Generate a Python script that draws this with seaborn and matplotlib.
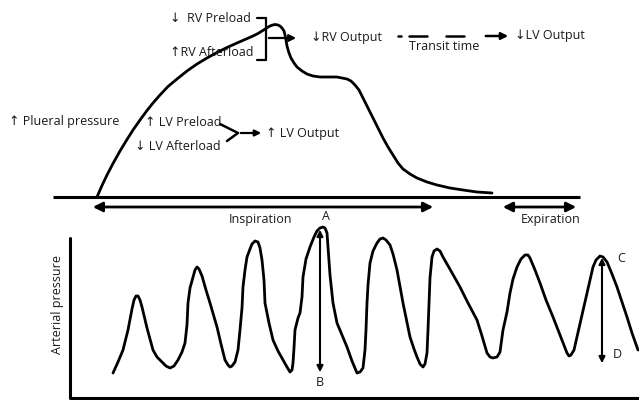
import matplotlib
matplotlib.use('Agg')
import matplotlib.pyplot as plt
import seaborn as sns

# pleural pressure curve (top), traced in pixel coords
pleural_x = [97, 102, 107, 113, 120, 127, 133, 140, 147, 153, 160, 168, 177, 187, 197, 207, 217, 227,
             237, 245, 253, 258, 262, 266, 269, 272, 275, 278, 280, 282, 284, 285, 286, 287, 289,
             291, 294, 297, 302, 307, 313, 320, 328, 337, 342, 347, 351, 355, 359, 363, 368, 373,
             378, 383, 388, 393, 398, 403, 410, 417, 427, 437, 450, 463, 477, 492]
pleural_y = [197, 185.5, 175, 163.5, 151, 139.5, 130, 120, 110.5, 103, 95, 86.5, 79, 71, 64, 58, 52.5, 47.5,
             43, 39.5, 36, 33.5, 31, 28.5, 26.5, 25.2, 24.5, 25, 26, 28, 31, 35, 40, 46, 53,
             58, 63, 67, 71, 74, 76, 77, 77, 77, 78, 79, 81, 85, 90, 98, 108, 118,
             128, 138, 147, 155, 163, 169, 174, 178, 182, 185, 188, 190, 192, 193]

# arterial pressure waveform (bottom)
wave_x = [113, 118, 123, 128, 132, 134, 136, 138, 140, 142, 147, 153, 157, 162, 166, 170, 174, 178,
          182, 185, 187, 188, 190, 193, 195, 197, 199, 202, 206, 210, 217, 221, 225, 228, 230, 232,
          235, 238, 240, 242, 243, 245, 247, 250, 252, 255, 258, 260, 262, 264, 265, 269, 273, 278,
          283, 287, 290, 292, 293, 294, 295, 298, 300, 302, 303, 306, 310, 314, 317, 320, 323, 325,
          327, 328, 330, 333, 337, 342, 347, 352, 357, 360, 363, 365, 366, 367, 368, 370, 373, 377,
          380, 383, 386, 390, 393, 397, 403, 410, 414, 417, 420, 423, 425, 427, 428, 429, 430, 432,
          434, 437, 440, 443, 451, 460, 468, 477, 482, 487, 490, 493, 497, 500, 503, 507, 510, 513,
          517, 521, 525, 528, 530, 535, 540, 546, 553, 560, 567, 569, 571, 574, 577, 582, 587, 590,
          593, 596, 600, 603, 607, 612, 617, 622, 627, 632, 638]
wave_y = [373, 362, 350, 330, 309, 300, 296, 296, 300, 307, 328, 350, 357, 362, 366, 368, 366, 360,
          352, 343, 325, 303, 288, 277, 270, 267, 269, 276, 290, 303, 327, 344, 360, 365, 367, 366,
          362, 350, 330, 308, 287, 270, 257, 249, 244, 241, 242, 248, 260, 280, 303, 323, 340, 351,
          360, 367, 372, 370, 363, 348, 330, 318, 313, 297, 277, 259, 247, 237, 231, 228, 227, 228,
          233, 247, 275, 303, 323, 335, 347, 361, 373, 372, 368, 350, 330, 303, 285, 263, 251, 243,
          239, 238, 240, 245, 254, 270, 303, 337, 349, 357, 364, 367, 364, 353, 330, 303, 278, 257,
          251, 249, 251, 257, 271, 287, 303, 320, 336, 353, 357, 358, 357, 352, 330, 312, 293, 279,
          267, 259, 255, 255, 258, 270, 283, 300, 317, 335, 353, 356, 355, 350, 337, 315, 293, 280,
          267, 260, 256, 257, 262, 274, 287, 302, 317, 333, 350]

# text labels: (x, y, text)
labels = [
    (170, 19, '\u2193  RV Preload'),
    (170, 52, '\u2191RV Afterload'),
    (311, 38, '\u2193RV Output'),
    (409, 46, 'Transit time'),
    (515, 36, '\u2193LV Output'),
    (9, 121, '\u2191 Plueral pressure'),
    (145, 123, '\u2191 LV Preload'),
    (135, 146, '\u2193 LV Afterload'),
    (266, 133, '\u2191 LV Output'),
]
centered = [
    (261, 220, 'Inspiration'),
    (551, 220, 'Expiration'),
    (326, 216, 'A'),
    (320, 382, 'B'),
]

sns.set_theme(style='white')
plt.rcParams['font.family'] = ['Open Sans', 'DejaVu Sans']

fig = plt.figure(figsize=(6.39, 4.0), dpi=100)
ax = fig.add_axes([0, 0, 1, 1])
ax.set_xlim(0, 639)
ax.set_ylim(400, 0)
ax.axis('off')

lw = 2.0
for xs, ys in [(pleural_x, pleural_y), (wave_x, wave_y)]:
    sns.lineplot(x=xs, y=ys, sort=False, estimator=None, color='black', lw=lw, ax=ax)
for line in ax.get_lines():
    line.set_solid_joinstyle('round')
    line.set_solid_capstyle('round')

# baseline and axes frame
ax.plot([53, 580], [197, 197], color='black', lw=2.2, solid_capstyle='butt')
ax.plot([70, 70, 639], [238, 398, 398], color='black', lw=2.2)

# RV bracket and arrow
ax.plot([257, 266, 266, 257], [18, 18, 60, 60], color='black', lw=1.6)
ax.annotate('', xy=(299, 38), xytext=(266, 38),
            arrowprops=dict(arrowstyle='-|>', color='black', lw=1.6, mutation_scale=10))

# transit time dashes and arrow
ax.plot([398, 401], [36, 36], color='black', lw=1.8)
ax.plot([409, 427], [36, 36], color='black', lw=1.8)
ax.plot([446, 464], [36, 36], color='black', lw=1.8)
ax.annotate('', xy=(511, 36), xytext=(483, 36),
            arrowprops=dict(arrowstyle='-|>', color='black', lw=1.8, mutation_scale=10))

# LV converging lines
ax.plot([220, 238, 227], [124, 133, 141], color='black', lw=1.8)
ax.annotate('', xy=(264, 133), xytext=(238, 133),
            arrowprops=dict(arrowstyle='-|>', color='black', lw=1.6, mutation_scale=9))

# inspiration / expiration arrows
ax.annotate('', xy=(90, 207), xytext=(436, 207),
            arrowprops=dict(arrowstyle='<|-|>', color='black', lw=2.0, mutation_scale=14))
ax.annotate('', xy=(500, 207), xytext=(579, 207),
            arrowprops=dict(arrowstyle='<|-|>', color='black', lw=2.0, mutation_scale=14))

# A-B and C-D arrows
ax.annotate('', xy=(320, 227), xytext=(320, 375),
            arrowprops=dict(arrowstyle='<|-|>', color='black', lw=1.5, mutation_scale=9))
ax.annotate('', xy=(602, 255), xytext=(602, 366),
            arrowprops=dict(arrowstyle='<|-|>', color='black', lw=1.5, mutation_scale=9))

fs = 9
for x, y, t in labels:
    ax.text(x, y, t, ha='left', va='center', fontsize=fs, color='#1a1a1a')
for x, y, t in centered:
    ax.text(x, y, t, ha='center', va='center', fontsize=fs, color='#1a1a1a')
ax.text(617, 259, 'C', ha='left', va='center', fontsize=fs, color='#1a1a1a')
ax.text(613, 355, 'D', ha='left', va='center', fontsize=fs, color='#1a1a1a')
ax.text(58, 304, 'Arterial pressure', rotation=90, ha='center', va='center', fontsize=fs, color='#1a1a1a')

fig.savefig('out.png', dpi=100)
